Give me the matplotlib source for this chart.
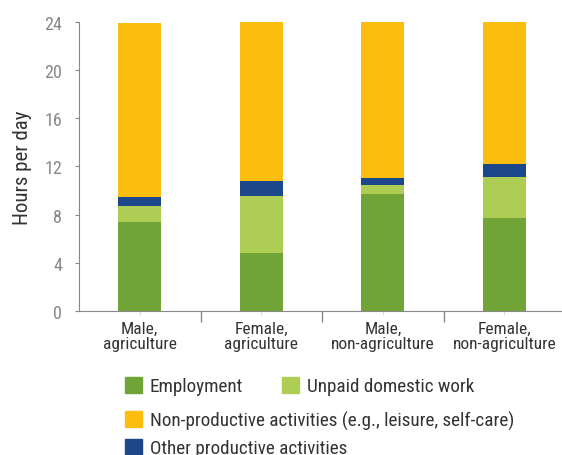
import matplotlib
matplotlib.use("Agg")
import matplotlib.pyplot as plt
from matplotlib import font_manager
from matplotlib.patches import Patch

# Hours per day by activity
categories = ["Male,\nagriculture", "Female,\nagriculture", "Male,\nnon-agriculture", "Female,\nnon-agriculture"]
employment = [7.38, 4.80, 9.70, 7.72]
unpaid_domestic = [1.33, 4.73, 0.75, 3.40]
other_productive = [0.75, 1.25, 0.58, 1.08]
non_productive = [14.44, 13.19, 12.96, 11.80]

series_names = ["Employment", "Unpaid domestic work",
                "Non-productive activities (e.g., leisure, self-care)",
                "Other productive activities"]
colors = {"emp": "#70A436", "unpaid": "#AECD54", "other": "#1D478B", "nonprod": "#FBBD0F"}

# pick a narrow font if one is installed
names = {f.name for f in font_manager.fontManager.ttflist}
family = "Roboto"
for cand in ["Liberation Sans Narrow", "Roboto Condensed", "Roboto"]:
    if cand in names:
        family = cand
        break
plt.rcParams["font.family"] = [family, "DejaVu Sans"]

fig = plt.figure(figsize=(5.62, 4.56), dpi=100)
ax = fig.add_axes([79 / 562, 144 / 456, 486 / 562, 289.3 / 456])

x = list(range(len(categories)))
w = 0.355
bottom = [0.0] * len(x)
stack = [(employment, colors["emp"]), (unpaid_domestic, colors["unpaid"]),
         (other_productive, colors["other"]), (non_productive, colors["nonprod"])]
for vals, c in stack:
    ax.bar(x, vals, w, bottom=bottom, color=c, clip_on=False)
    bottom = [b + v for b, v in zip(bottom, vals)]

ax.set_xlim(-0.5, 3.5)
ax.set_ylim(0, 24)
ax.set_yticks([0, 4, 8, 12, 16, 20, 24])
ax.set_ylabel("Hours per day", fontsize=15, color="#333333", labelpad=9)

ax.set_xticks(x)
ax.set_xticklabels(categories, fontsize=12.5, color="#333333", linespacing=1.0)
ax.set_xticks([0.5, 1.5, 2.5], minor=True)
ax.tick_params(axis="x", which="major", length=3, color="#dddddd", pad=4)
ax.tick_params(axis="x", which="minor", length=8, color="#888888", width=1)
ax.tick_params(axis="y", length=3, color="#888888", labelsize=13, labelcolor="#888888", pad=9)

for s in ["top", "right"]:
    ax.spines[s].set_visible(False)
for s in ["left", "bottom"]:
    ax.spines[s].set_color("#888888")

fs = 13.8
common = dict(frameon=False, fontsize=fs, borderpad=0, borderaxespad=0,
              handlelength=0.9, handleheight=0.9, handletextpad=0.4,
              labelcolor="#333333")
h_emp = [Patch(color=colors["emp"])]
h_unp = [Patch(color=colors["unpaid"])]
h_rest = [Patch(color=colors["nonprod"]), Patch(color=colors["other"])]

l1 = fig.legend(h_emp, [series_names[0]], loc="center left",
                bbox_to_anchor=(125 / 562, (456 - 387) / 456), **common)
l2 = fig.legend(h_unp, [series_names[1]], loc="center left",
                bbox_to_anchor=(282 / 562, (456 - 387) / 456), **common)
l3 = fig.legend(h_rest, series_names[2:], loc="center left", labelspacing=0.45,
                bbox_to_anchor=(125 / 562, (456 - 435) / 456), **common)

fig.savefig("out.png", dpi=100)
